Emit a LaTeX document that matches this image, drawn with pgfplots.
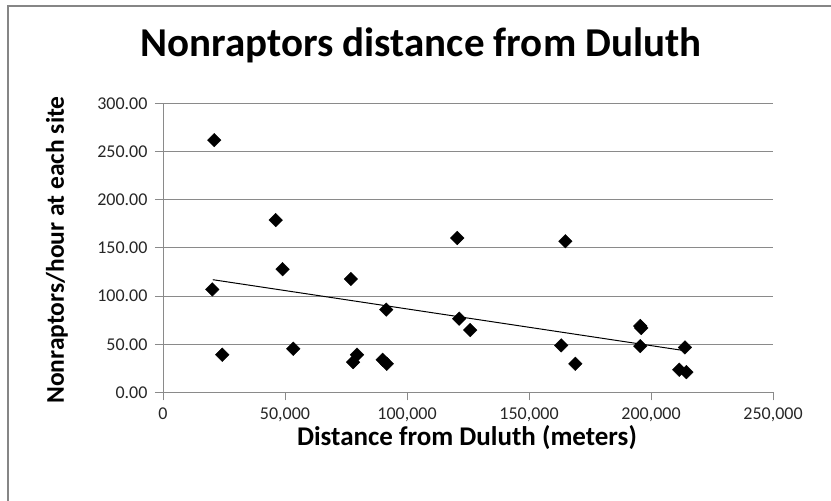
\documentclass[border=0pt]{standalone}
\usepackage{fontspec}
\setmainfont{Carlito}
\usepackage{pgfplots}
\pgfplotsset{compat=1.18}
\definecolor{gridgray}{HTML}{8A8A8A}
\definecolor{framegray}{HTML}{868686}
\begin{document}
\begin{tikzpicture}[x=1pt,y=1pt]
\useasboundingbox (0,0) rectangle (831,501);
\draw[framegray, line width=2pt] (8,0) -- (8,495) -- (831,495);
\node[font=\fontsize{41}{48}\selectfont\bfseries] at (421,456) {Nonraptors distance from Duluth};
\begin{axis}[
  at={(163pt,108.5pt)}, anchor=south west,
  scale only axis, width=610pt, height=289pt,
  xmin=0, xmax=250000, ymin=0, ymax=300,
  xtick={0,50000,100000,150000,200000,250000},
  ytick={0,50,100,150,200,250,300},
  scaled x ticks=false,
  axis lines=left,
  axis line style={-, gridgray, line width=1pt},
  ymajorgrids,
  grid style={gridgray, line width=1pt},
  tick style={gridgray, line width=1pt},
  tick align=outside,
  major tick length=8pt,
  x tick label style={/pgf/number format/.cd, fixed, 1000 sep={,}, assume math mode=true, /tikz/.cd, yshift=-4pt},
  y tick label style={/pgf/number format/.cd, fixed, fixed zerofill, precision=2, assume math mode=true, /tikz/.cd, xshift=-4pt},
  tick label style={font=\fontsize{18}{21}\selectfont, text=black!85},
  clip=false,
]
\addplot[only marks, mark=square*, mark size=4.8, mark options={rotate=45, fill=black, draw=black}] coordinates {
(21000,262) (20200,107) (24300,39.2) (46200,179) (49000,128) (53400,45.4)
(77000,117.8) (79500,39.2) (77900,31.5) (91500,86) (90000,34) (91700,29.8)
(120600,160.4) (121400,76.6) (125900,64.8) (164900,157) (163200,48.9)
(169000,29.8) (195600,69) (196000,67) (195600,48.1) (213900,46.8)
(211600,23.6) (214500,21.1)
};
\addplot[black, line width=1pt] coordinates {(20400,117.1) (213300,43.6)};
\end{axis}
\node[font=\fontsize{27}{32}\selectfont\bfseries] at (467,63) {Distance from Duluth (meters)};
\node[font=\fontsize{25.5}{30}\selectfont\bfseries, rotate=90] at (57,251) {Nonraptors/hour at each site};
\end{tikzpicture}
\end{document}
